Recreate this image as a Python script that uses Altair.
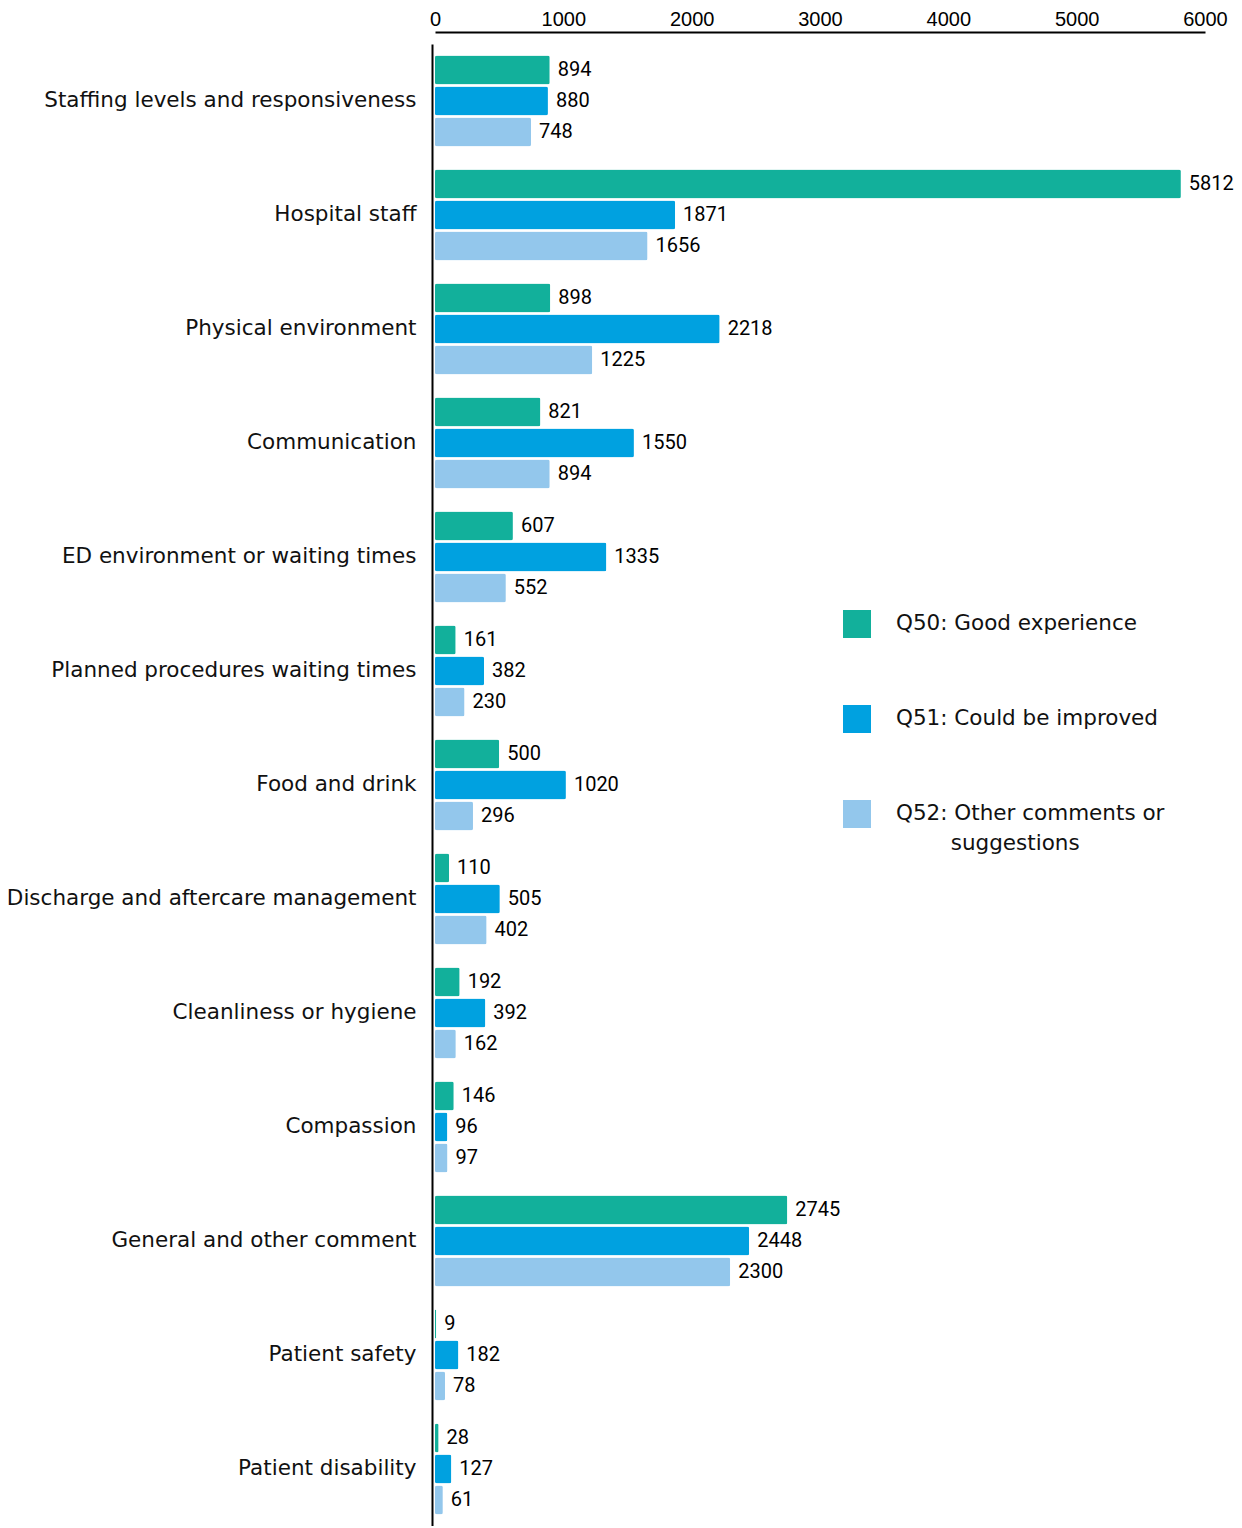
import altair as alt
import pandas as pd

categories = [
    "Staffing levels and responsiveness",
    "Hospital staff",
    "Physical environment",
    "Communication",
    "ED environment or waiting times",
    "Planned procedures waiting times",
    "Food and drink",
    "Discharge and aftercare management",
    "Cleanliness or hygiene",
    "Compassion",
    "General and other comment",
    "Patient safety",
    "Patient disability",
]
series = [
    "Q50: Good experience",
    "Q51: Could be improved",
    "Q52: Other comments or suggestions",
]
q50 = [894, 5812, 898, 821, 607, 161, 500, 110, 192, 146, 2745, 9, 28]
q51 = [880, 1871, 2218, 1550, 1335, 382, 1020, 505, 392, 96, 2448, 182, 127]
q52 = [748, 1656, 1225, 894, 552, 230, 296, 402, 162, 97, 2300, 78, 61]
colors = ["#12B09B", "#00A1E0", "#93C7EC"]
x_ticks = [0, 1000, 2000, 3000, 4000, 5000, 6000]

rows = []
for i, c in enumerate(categories):
    for s, vals in zip(series, [q50, q51, q52]):
        rows.append({"category": c, "series": s, "value": vals[i]})
df = pd.DataFrame(rows)

x = alt.X(
    "value:Q",
    scale=alt.Scale(domain=[0, 6000], nice=False),
    axis=alt.Axis(
        orient="top", values=x_ticks, title=None, grid=False, ticks=False,
        domainColor="black", domainWidth=2, offset=12, format="d",
        labelFont="Liberation Sans", labelFontSize=20, labelColor="black",
        labelPadding=3, labelFlush=False,
    ),
)
y = alt.Y(
    "category:N", sort=categories,
    scale=alt.Scale(paddingInner=0, paddingOuter=0),
    axis=alt.Axis(
        title=None, orient="left", domainColor="black", domainWidth=2,
        ticks=False, offset=3, labelFont="DejaVu Sans", labelFontSize=21.5,
        labelColor="#111", labelPadding=16, labelLimit=700,
    ),
)
yoff = alt.YOffset(
    "series:N", sort=series,
    scale=alt.Scale(paddingInner=0.065, paddingOuter=0.371),
)
nb = "\u200b" + "\u00a0" * 8
color = alt.Color(
    "series:N", sort=series,
    scale=alt.Scale(domain=series, range=colors),
    legend=alt.Legend(
        title=None, orient="none", legendX=408, legendY=566,
        symbolType="square", symbolSize=784, symbolStrokeWidth=0, symbolOpacity=1,
        labelFont="DejaVu Sans", labelFontSize=21.5, labelColor="#111",
        labelOffset=25, rowPadding=67, padding=0, labelLimit=600,
        labelExpr="datum.label == 'Q52: Other comments or suggestions' ? ['Q52: Other comments or', '" + nb + "suggestions'] : datum.label",
    ),
)

bars = alt.Chart(df).mark_bar(cornerRadius=2).encode(
    x=x, y=y, yOffset=yoff, color=color
)
text = alt.Chart(df).mark_text(
    align="left", baseline="middle", dx=8, font="Roboto", fontSize=20, color="black"
).encode(
    x=alt.X("value:Q", scale=alt.Scale(domain=[0, 6000], nice=False)),
    y=alt.Y("category:N", sort=categories),
    yOffset=alt.YOffset("series:N", sort=series),
    text="value:Q",
)

chart = alt.layer(bars, text).properties(
    width=770, height=1482,
    autosize=alt.AutoSizeParams(type="none"),
    padding={"left": 427, "top": 36, "right": 29, "bottom": 0},
).configure(
    style={"guide-label": {"lineHeight": 30}},
    view={"stroke": None},
)

chart.save("out.html", embed_options={"renderer": "svg", "actions": False})
